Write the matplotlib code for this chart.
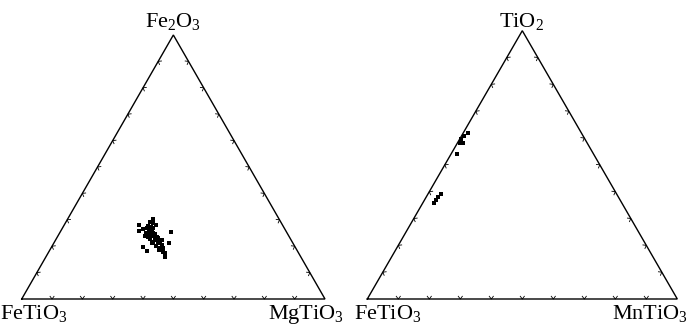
import numpy as np
import matplotlib
matplotlib.use("Agg")
import matplotlib.pyplot as plt

plt.rcParams['font.family'] = ['Liberation Serif', 'DejaVu Serif']
plt.rcParams['mathtext.fontset'] = 'custom'
plt.rcParams['mathtext.rm'] = 'Liberation Serif'
plt.rcParams['mathtext.it'] = 'Liberation Serif'

# ---- Left diagram: FeTiO3 - MgTiO3 - Fe2O3 (mol %) ----
left_labels = ["FeTiO$_3$", "MgTiO$_3$", "Fe$_2$O$_3$"]
left_fe2o3 = [30.2, 29.2, 28.7, 28.0, 28.0, 26.4, 26.8, 25.8, 25.9, 25.5, 26.1, 25.1,
              24.9, 24.9, 24.5, 23.9, 23.6, 23.0, 23.0, 22.6, 23.9, 19.8, 18.3, 21.7,
              20.5, 19.2, 19.2, 17.3, 16.0, 21.3, 25.3, 21.1, 21.7, 20.1, 18.6, 17.9,
              21.1, 23.4, 27.4, 26.8, 27.7, 21.7, 22.3, 22.3]
left_mgtio3 = [28.2, 27.7, 28.8, 30.2, 24.8, 26.9, 27.9, 25.8, 28.9, 29.6, 29.8, 30.8,
               29.7, 28.6, 31.7, 31.0, 32.8, 33.6, 32.3, 31.0, 28.8, 30.2, 32.2, 34.7,
               36.0, 37.1, 36.0, 38.6, 39.1, 38.0, 36.7, 34.3, 32.5, 34.2, 36.0, 37.5,
               32.4, 30.1, 28.9, 30.0, 27.8, 34.2, 35.0, 32.8]

# ---- Right diagram: FeTiO3 - MnTiO3 - TiO2 (mol %) ----
right_labels = ["FeTiO$_3$", "MnTiO$_3$", "TiO$_2$"]
right_tio2 = [61.8, 60.8, 59.5, 58.3, 58.0, 53.9, 39.1, 37.9, 36.9, 35.9]
right_mntio3 = [1.6, 0.8, 0.5, 0.6, 2.0, 2.0, 4.1, 3.9, 3.7, 3.5]

tick_fracs = [0.1, 0.2, 0.3, 0.4, 0.5, 0.6, 0.7, 0.8, 0.9]

W, H = 689, 324
fig = plt.figure(figsize=(W / 100, H / 100), dpi=100)

H3 = np.sqrt(3) / 2


def to_xy(right_pct, top_pct):
    b = np.asarray(right_pct) / 100.0
    c = np.asarray(top_pct) / 100.0
    return b + c / 2.0, c * H3


def draw_triangle(ax, arm=0.011):
    V = np.array([[0, 0], [1, 0], [0.5, H3], [0, 0]])
    ax.plot(V[:, 0], V[:, 1], color='black', lw=1.0, clip_on=False,
            solid_joinstyle='miter')
    centroid = np.array([0.5, H3 / 3])
    edges = [(V[0], V[1]), (V[1], V[2]), (V[2], V[0])]
    for p0, p1 in edges:
        t = (p1 - p0) / np.linalg.norm(p1 - p0)
        n = np.array([-t[1], t[0]])
        mid = (p0 + p1) / 2
        if np.dot(centroid - mid, n) < 0:
            n = -n
        for f in tick_fracs:
            p = p0 + f * (p1 - p0)
            a1 = p + arm * (n * 0.8 + t * 0.6)
            a2 = p + arm * (n * 0.8 - t * 0.6)
            ax.plot([a1[0], p[0], a2[0]], [a1[1], p[1], a2[1]],
                    color='black', lw=0.6, clip_on=False)
    ax.set_xlim(0, 1)
    ax.set_ylim(0, H3)
    ax.axis('off')


def px_axes(x0, x1, ybot, ytop):
    return fig.add_axes([x0 / W, (H - ybot) / H, (x1 - x0) / W, (ybot - ytop) / H])


# Left
axL = px_axes(21.7, 325.0, 299.0, 35.0)
draw_triangle(axL)
x, y = to_xy(left_mgtio3, left_fe2o3)
axL.plot(x, y, 's', color='black', ms=2.2, mew=0, clip_on=False)

# Right
axR = px_axes(367.3, 677.3, 299.0, 30.7)
draw_triangle(axR)
x, y = to_xy(right_mntio3, right_tio2)
axR.plot(x, y, 's', color='black', ms=3.3, mew=0, clip_on=False)

fs = 16


def ptext(px, py, s, ha):
    fig.text(px / W, (H - py) / H, s, ha=ha, va='baseline', fontsize=fs)


ptext(173.5, 27.5, left_labels[2], 'center')
ptext(0.5, 318.5, left_labels[0], 'left')
ptext(344.5, 318.5, left_labels[1], 'right')
ptext(521.5, 26.5, right_labels[2], 'center')
ptext(353.5, 318.5, right_labels[0], 'left')
ptext(688.5, 318.5, right_labels[1], 'right')

fig.savefig('out.png', dpi=100, facecolor='white')
